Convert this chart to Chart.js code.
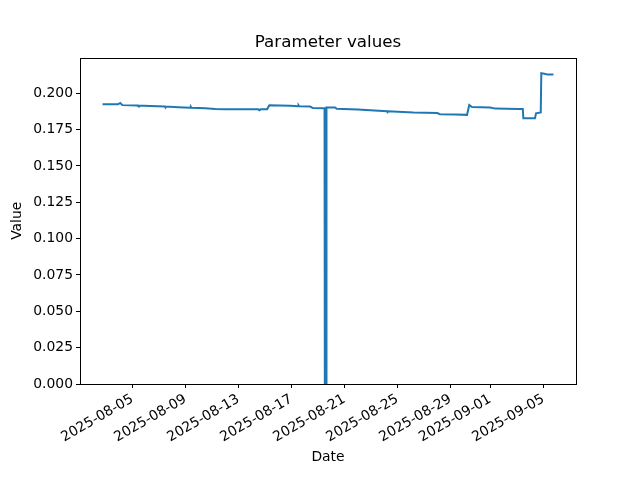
<!DOCTYPE html>
<html>
<head>
<meta charset="utf-8">
<title>Parameter values</title>
<script src="https://cdn.jsdelivr.net/npm/chart.js@4/dist/chart.umd.min.js"></script>
<style>
body { margin: 0; background: #fff; }
</style>
</head>
<body>
<canvas id="myChart" width="640" height="480"></canvas>
<script>
// sample times (UTC) and values
var dates = [
 '2025-08-02 18:00','2025-08-03 22:00','2025-08-04 02:00','2025-08-04 06:00',
 '2025-08-05 10:00','2025-08-05 11:00','2025-08-05 12:00','2025-08-06 08:00',
 '2025-08-07 11:00','2025-08-07 12:00','2025-08-07 13:00','2025-08-08 11:00',
 '2025-08-09 09:00','2025-08-09 10:00','2025-08-09 11:00','2025-08-10 12:00',
 '2025-08-11 06:00','2025-08-12 00:00','2025-08-14 12:00','2025-08-14 14:00',
 '2025-08-14 16:00','2025-08-15 04:00','2025-08-15 08:00','2025-08-16 22:00',
 '2025-08-17 12:00','2025-08-17 13:00','2025-08-17 14:00','2025-08-18 10:00',
 '2025-08-18 15:00','2025-08-19 12:00','2025-08-19 12:30','2025-08-19 15:00',
 '2025-08-19 15:30','2025-08-20 07:00','2025-08-20 10:00','2025-08-22 00:00',
 '2025-08-24 05:00','2025-08-24 06:00','2025-08-24 07:00','2025-08-26 05:00',
 '2025-08-28 00:00','2025-08-28 05:00','2025-08-29 09:00','2025-08-30 06:00',
 '2025-08-30 10:00','2025-08-30 15:00','2025-09-01 00:00','2025-09-01 09:00',
 '2025-09-03 03:00','2025-09-03 11:00','2025-09-03 12:00','2025-09-04 09:00',
 '2025-09-04 11:00','2025-09-04 19:30','2025-09-04 20:30','2025-09-05 04:00',
 '2025-09-05 08:00','2025-09-05 18:30'
];
var values = [
 0.1924,0.1924,0.1933,0.1918,
 0.1915,0.1909,0.1915,0.1912,
 0.1909,0.1902,0.1908,0.1904,
 0.1900,0.1906,0.1900,0.1896,
 0.1892,0.1890,0.1889,0.1883,
 0.1889,0.1889,0.1917,0.1913,
 0.1911,0.1916,0.1910,0.1908,
 0.1898,0.1897,0.0,0.0,
 0.1902,0.1902,0.1893,0.1888,
 0.1876,0.1870,0.1876,0.1867,
 0.1864,0.1856,0.1853,0.1851,
 0.1919,0.1905,0.1902,0.1894,
 0.1892,0.1892,0.1828,0.1828,
 0.1862,0.1868,0.2138,0.2132,
 0.2128,0.2128
];
var tickDates = ['2025-08-05','2025-08-09','2025-08-13','2025-08-17','2025-08-21',
                 '2025-08-25','2025-08-29','2025-09-01','2025-09-05'];
var yTicks = [0, 0.025, 0.05, 0.075, 0.1, 0.125, 0.15, 0.175, 0.2];
var chartTitle = 'Parameter values';

function toMs(s) {
    if (s.length == 10) s = s + ' 00:00';
    return Date.parse(s.replace(' ', 'T') + ':00Z');
}

var points = [];
for (var i = 0; i < dates.length; i++) {
    points.push({x: toMs(dates[i]), y: values[i]});
}
var tickVals = tickDates.map(toMs);

// matplotlib style 5% margins
var xFirst = points[0].x, xLast = points[points.length - 1].x;
var xPad = (xLast - xFirst) * 0.05;
var yMax = Math.max.apply(null, values) * 1.05;

Chart.defaults.font.family = 'DejaVu Sans';
Chart.defaults.color = '#000';

// axes box + title centred over the plot area (like matplotlib)
var framePlugin = {
    id: 'frame',
    afterDatasetsDraw: function(chart) {
        var a = chart.chartArea, ctx = chart.ctx;
        ctx.save();
        ctx.strokeStyle = '#000';
        ctx.lineWidth = 1;
        ctx.strokeRect(Math.round(a.left) + 0.5, Math.round(a.top) + 0.5,
                       Math.round(a.right - a.left), Math.round(a.bottom - a.top));
        ctx.fillStyle = '#000';
        ctx.font = '16.7px "DejaVu Sans"';
        ctx.textAlign = 'center';
        ctx.textBaseline = 'middle';
        ctx.fillText(chartTitle, (a.left + a.right) / 2, a.top - 14.6);
        ctx.restore();
    }
};

var ctx = document.getElementById('myChart').getContext('2d');
var myChart = new Chart(ctx, {
    type: 'line',
    data: {
        datasets: [{
            data: points,
            borderColor: '#1f77b4',
            backgroundColor: '#1f77b4',
            borderWidth: 2,
            pointRadius: 0,
            tension: 0,
            fill: false
        }]
    },
    options: {
        responsive: false,
        animation: false,
        layout: { padding: { left: 0, right: 64, top: 57.6, bottom: 0 } },
        plugins: {
            legend: { display: false },
            tooltip: { enabled: false },
            title: { display: false }
        },
        scales: {
            x: {
                type: 'linear',
                min: xFirst - xPad,
                max: xLast + xPad,
                afterBuildTicks: function(scale) {
                    scale.ticks = tickVals.map(function(v) { return {value: v}; });
                },
                afterFit: function(scale) { scale.height = 96; },
                ticks: {
                    autoSkip: false,
                    minRotation: 30,
                    maxRotation: 30,
                    padding: 3,
                    font: { size: 13.9 },
                    callback: function(v) {
                        var i = tickVals.indexOf(v);
                        return i >= 0 ? tickDates[i] : '';
                    }
                },
                grid: { drawOnChartArea: false, tickLength: 4, tickColor: '#000' },
                border: { display: false },
                title: {
                    display: true,
                    text: 'Date',
                    font: { size: 13.9 },
                    padding: { top: 0, bottom: 14.7 }
                }
            },
            y: {
                min: 0,
                max: yMax,
                afterBuildTicks: function(scale) {
                    scale.ticks = yTicks.map(function(v) { return {value: v}; });
                },
                afterFit: function(scale) { scale.width = 80; },
                ticks: {
                    padding: 3,
                    font: { size: 13.9 },
                    callback: function(v) { return v.toFixed(3); }
                },
                grid: { drawOnChartArea: false, tickLength: 4, tickColor: '#000' },
                border: { display: false },
                title: {
                    display: true,
                    text: 'Value',
                    font: { size: 13.9 },
                    padding: { top: 8.7, bottom: 0 }
                }
            }
        }
    },
    plugins: [framePlugin]
});
</script>
</body>
</html>
